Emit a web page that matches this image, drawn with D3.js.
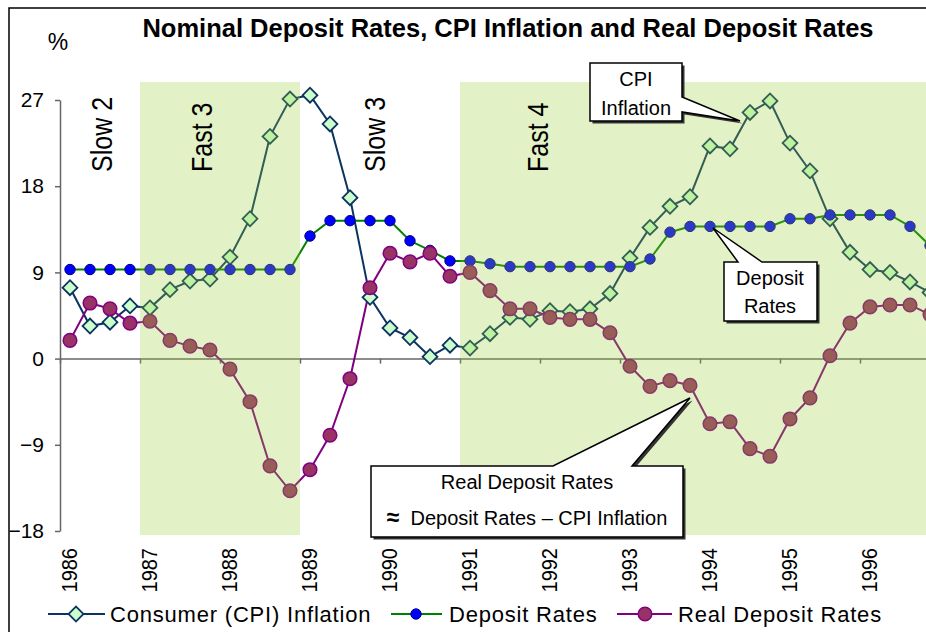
<!DOCTYPE html>
<meta charset="utf-8">
<script src="https://d3js.org/d3.v7.min.js"></script>
<style>
  body { margin: 0; background: #fff; }
  text { font-family: "Liberation Sans", Arial, sans-serif; }
</style>
<div id="chart"></div>
<script>

// quarterly data, 1986 Q1 .. 1996 Q4
var startYear = 1986
var years = [1986, 1987, 1988, 1989, 1990, 1991, 1992, 1993, 1994, 1995, 1996]
var yTicks = [-18, -9, 0, 9, 18, 27]

var cpiInflation = [7.4, 3.4, 3.8, 5.5, 5.3, 7.2, 8.1, 8.3, 10.6, 14.6, 23.2, 27.1,
  27.5, 24.5, 16.8, 6.4, 3.2, 2.2, 0.2, 1.4, 1.1, 2.6, 4.3, 4.1,
  5.0, 4.9, 5.2, 6.8, 10.5, 13.7, 15.9, 16.9, 22.2, 21.9, 25.7, 26.9,
  22.5, 19.6, 14.6, 11.1, 9.3, 9.0, 8.0, 6.9]

var depositRates = [9.3, 9.3, 9.3, 9.3, 9.3, 9.3, 9.3, 9.3, 9.3, 9.3, 9.3, 9.3,
  12.8, 14.4, 14.4, 14.4, 14.4, 12.3, 11.3, 10.2, 10.2, 9.9, 9.6, 9.6,
  9.6, 9.6, 9.6, 9.6, 9.6, 10.4, 13.2, 13.8, 13.8, 13.8, 13.8, 13.8,
  14.6, 14.6, 15.0, 15.0, 15.0, 15.0, 13.8, 11.8]

var realDepositRates = [1.9, 5.8, 5.2, 3.7, 3.9, 1.9, 1.3, 0.9, -1.1, -4.5, -11.2, -13.8,
  -11.6, -8.0, -2.1, 7.4, 11.0, 10.1, 11.0, 8.6, 9.0, 7.1, 5.2, 5.2,
  4.3, 4.1, 4.1, 2.7, -0.8, -2.9, -2.3, -2.8, -6.8, -6.6, -9.4, -10.2,
  -6.3, -4.1, 0.3, 3.7, 5.4, 5.6, 5.6, 4.6]

// growth phases: label, span in years, where the label sits
var phaseNames = ["Slow 2", "Fast 3", "Slow 3", "Fast 4"]
var phaseStart = [1986, 1987, 1989, 1991]
var phaseEnd   = [1987, 1989, 1991, 1997]
var phaseLabelAt = [1986.65, 1987.9, 1990.06, 1992.1]

var w = 926, h = 632

var svg = d3.select("#chart")
  .append("svg")
    .attr("width", w)
    .attr("height", h)

var xScale = d3.scaleLinear()
  .domain([1986, 1997])
  .range([60, 940])

var yScale = d3.scaleLinear()
  .domain([-18, 27])
  .range([531, 100])

var qx = (d, i) => xScale(startYear + (i + 0.5) / 4)

// frame
svg.append("rect")
  .attr("x", 9).attr("y", 8)
  .attr("width", 960).attr("height", 700)
  .attr("fill", "none")
  .attr("stroke", "#000")
  .attr("stroke-width", 1.5)

// title + unit
svg.append("text")
  .attr("x", 508).attr("y", 37)
  .attr("text-anchor", "middle")
  .attr("font-size", "25.5px")
  .attr("font-weight", "bold")
  .text("Nominal Deposit Rates, CPI Inflation and Real Deposit Rates")

svg.append("text")
  .attr("x", 58).attr("y", 50)
  .attr("text-anchor", "middle")
  .attr("font-size", "23px")
  .text("%")

// y axis
var yAxis = svg.append("g")
  .attr("transform", "translate(60,0)")
  .call(d3.axisLeft(yScale).tickValues(yTicks).tickSize(5).tickSizeOuter(0))
yAxis.select(".domain").attr("stroke", "#666").attr("stroke-width", 1.5)
yAxis.selectAll(".tick line").attr("stroke", "#666").attr("stroke-width", 1.5)
yAxis.selectAll(".tick text")
  .attr("font-size", "21px")
  .attr("font-family", "Liberation Sans, Arial, sans-serif")
  .attr("fill", "#000")
  .attr("x", -16)

// x axis on zero line
var xAxis = svg.append("g")
  .attr("transform", `translate(0,${yScale(0)})`)
  .call(d3.axisBottom(xScale).tickValues(d3.range(1986, 1998)).tickSize(5).tickSizeOuter(0).tickFormat(""))
xAxis.select(".domain").attr("stroke", "#666").attr("stroke-width", 1.5)
xAxis.selectAll(".tick line").attr("stroke", "#666").attr("stroke-width", 1.5)

// year labels low on the chart
svg.append("g")
  .selectAll("text")
  .data(years)
  .enter()
  .append("text")
    .attr("transform", d => `translate(${xScale(d) + 17},548) scale(1.1,1) rotate(-90)`)
    .attr("text-anchor", "end")
    .attr("font-size", "20px")
    .text(d => d)

// series
var lineGen = d3.line().x(qx).y(d => yScale(d))

var plot = svg.append("g")

plot.append("path")
  .datum(cpiInflation)
  .attr("d", lineGen)
  .attr("fill", "none")
  .attr("stroke", "#0b3560")
  .attr("stroke-width", 2)

plot.append("path")
  .datum(depositRates)
  .attr("d", lineGen)
  .attr("fill", "none")
  .attr("stroke", "#008000")
  .attr("stroke-width", 2)

plot.append("path")
  .datum(realDepositRates)
  .attr("d", lineGen)
  .attr("fill", "none")
  .attr("stroke", "#800080")
  .attr("stroke-width", 2)

var diamond = d3.symbol().type(d3.symbolSquare).size(110)

plot.selectAll(".cpi")
  .data(cpiInflation)
  .enter()
  .append("path")
    .attr("class", "cpi")
    .attr("d", diamond)
    .attr("transform", (d, i) => `translate(${qx(d, i)},${yScale(d)}) rotate(45)`)
    .attr("fill", "#ccffcc")
    .attr("stroke", "#0b3560")
    .attr("stroke-width", 1.8)

plot.selectAll(".dep")
  .data(depositRates)
  .enter()
  .append("circle")
    .attr("class", "dep")
    .attr("cx", qx)
    .attr("cy", d => yScale(d))
    .attr("r", 5.2)
    .attr("fill", "#0000ff")
    .attr("stroke", "#000080")
    .attr("stroke-width", 1)

plot.selectAll(".real")
  .data(realDepositRates)
  .enter()
  .append("circle")
    .attr("class", "real")
    .attr("cx", qx)
    .attr("cy", d => yScale(d))
    .attr("r", 6.8)
    .attr("fill", "#993366")
    .attr("stroke", "#800080")
    .attr("stroke-width", 1.5)

// shaded fast-growth phases, laid over the series
svg.append("g")
  .selectAll("rect")
  .data(phaseNames.map((p, i) => i).filter(i => phaseNames[i].startsWith("Fast")))
  .enter()
  .append("rect")
    .attr("x", i => xScale(phaseStart[i]))
    .attr("width", i => xScale(phaseEnd[i]) - xScale(phaseStart[i]))
    .attr("y", 82)
    .attr("height", 453)
    .attr("fill", "#9acd32")
    .attr("fill-opacity", 0.28)

svg.append("g")
  .selectAll("text")
  .data(phaseNames)
  .enter()
  .append("text")
    .attr("transform", (d, i) => `translate(${xScale(phaseLabelAt[i])},172) scale(1.15,1) rotate(-90)`)
    .attr("font-size", "25px")
    .text(d => d)

// callouts
function callout(path, lines, cx, y0, dy) {
  var g = svg.append("g")
  g.append("path").attr("d", path)
    .attr("transform", "translate(2.5,2.5)")
    .attr("fill", "#333")
  g.append("path").attr("d", path)
    .attr("fill", "#fff")
    .attr("stroke", "#000")
    .attr("stroke-width", 1.5)
  return g.selectAll("text")
    .data(lines)
    .enter()
    .append("text")
      .attr("x", cx)
      .attr("y", (d, i) => y0 + i * dy)
      .attr("text-anchor", "middle")
      .attr("font-size", "20px")
}

callout("M590,63H682V97L740,121L682,112V121H590Z", ["CPI", "Inflation"], 636, 86, 29)
  .text(d => d)
callout("M724,262H738L713,228L762,262H817V321H724Z", ["Deposit", "Rates"], 770, 285, 28)
  .text(d => d)
var realLines = callout("M371,466H553L690,398L632,466H683V537H371Z",
  [["", "Real Deposit Rates"], ["\u2248", "  Deposit Rates \u2013 CPI Inflation"]], 527, 489, 36)
realLines.append("tspan").attr("font-weight", "bold").attr("font-size", "23px").text(d => d[0])
realLines.append("tspan").attr("xml:space", "preserve").text(d => d[1])

// legend
var legend = svg.append("g").attr("transform", "translate(0,614)")

legend.append("line").attr("x1", 48).attr("x2", 105).attr("stroke", "#0b3560").attr("stroke-width", 2)
legend.append("path").attr("d", diamond).attr("transform", "translate(76,0) rotate(45)")
  .attr("fill", "#ccffcc").attr("stroke", "#0b3560").attr("stroke-width", 1.8)
legend.append("text").attr("x", 110).attr("y", 8).attr("font-size", "22px").attr("letter-spacing", "0.8px").text("Consumer (CPI) Inflation")

legend.append("line").attr("x1", 391).attr("x2", 442).attr("stroke", "#008000").attr("stroke-width", 2)
legend.append("circle").attr("cx", 416).attr("r", 5.2).attr("fill", "#0000ff").attr("stroke", "#000080")
legend.append("text").attr("x", 449).attr("y", 8).attr("font-size", "22px").attr("letter-spacing", "0.8px").text("Deposit Rates")

legend.append("line").attr("x1", 617).attr("x2", 672).attr("stroke", "#800080").attr("stroke-width", 2)
legend.append("circle").attr("cx", 645).attr("r", 6.8).attr("fill", "#993366").attr("stroke", "#800080").attr("stroke-width", 1.5)
legend.append("text").attr("x", 678).attr("y", 8).attr("font-size", "22px").attr("letter-spacing", "0.8px").text("Real Deposit Rates")

</script>
